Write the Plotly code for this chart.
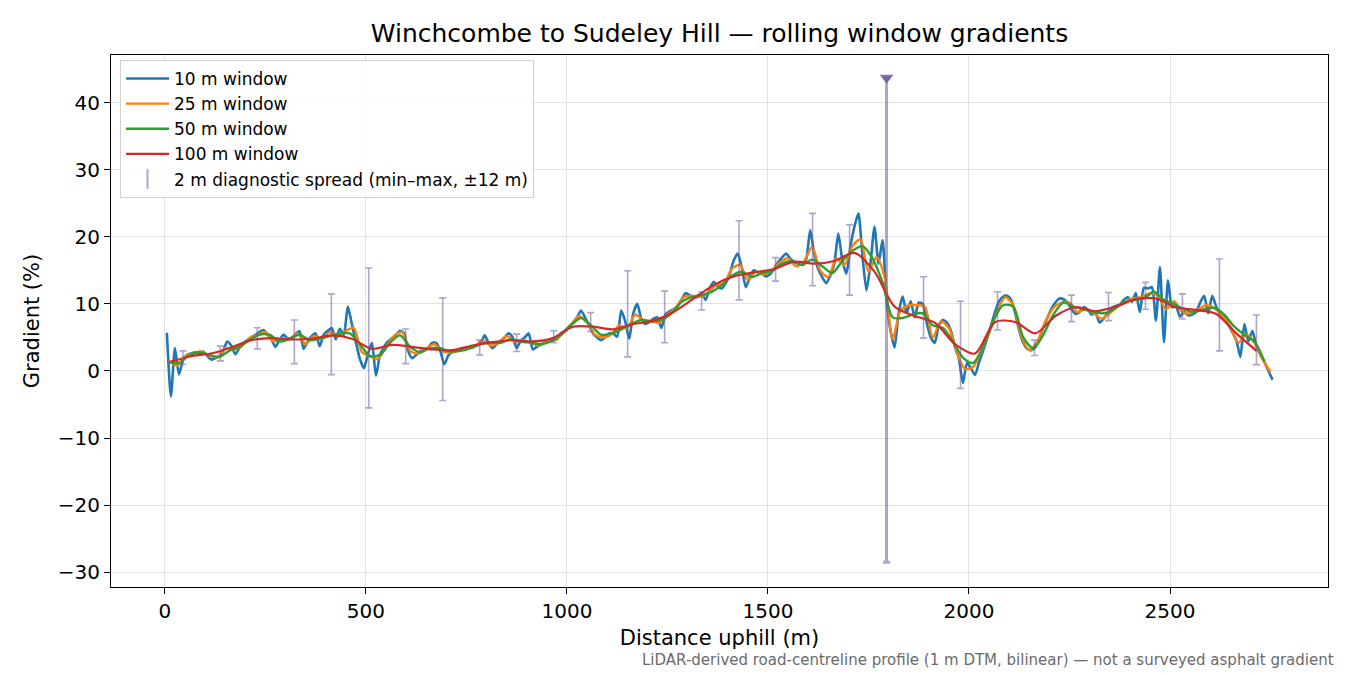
import plotly.graph_objects as go

# sample positions along the climb (m)
x10 = list(range(5, 2756, 10))
x25 = list(range(10, 2751, 20))
x50 = list(range(10, 2736, 25))
x100 = list(range(15, 2716, 50))

# rolling-window gradients (%)
grad10 = [
    5.7, -3.8, 3.4, -0.5, 1.6, 2.4, 2.6, 2.8, 2.5, 2.9,
    2.3, 1.7, 1.9, 2.2, 3.0, 4.4, 3.8, 2.5, 3.4, 4.1,
    4.6, 5.0, 5.4, 5.8, 6.1, 5.4, 4.7, 3.6, 4.6, 5.4,
    4.9, 4.8, 5.5, 5.9, 3.3, 4.4, 5.2, 5.6, 3.7, 5.4,
    6.0, 6.4, 4.7, 6.3, 5.4, 9.6, 7.0, 4.3, 1.8, 0.4,
    2.5, 4.2, -0.7, 2.4, 3.6, 4.4, 4.9, 5.4, 6.0, 5.6,
    3.0, 1.9, 2.4, 2.9, 3.2, 3.5, 4.2, 4.2, 3.0, 1.0,
    2.3, 2.8, 3.0, 3.1, 3.2, 3.4, 3.6, 3.8, 4.0, 5.3,
    4.2, 3.4, 4.0, 4.5, 5.0, 5.6, 5.0, 3.4, 4.5, 5.0,
    5.6, 3.2, 3.6, 3.9, 4.3, 4.6, 4.6, 4.7, 5.6, 6.0,
    6.6, 7.2, 8.0, 9.0, 8.0, 6.8, 5.6, 5.0, 4.6, 5.0,
    5.6, 5.6, 5.1, 9.0, 7.4, 4.8, 8.6, 10.0, 7.8, 7.0,
    7.3, 7.8, 8.0, 6.4, 8.4, 8.9, 9.2, 9.6, 10.6, 11.6,
    11.3, 11.1, 11.0, 11.5, 10.6, 12.3, 13.3, 12.6, 12.3, 13.1,
    14.5, 16.5, 17.5, 15.4, 12.5, 14.0, 15.0, 14.7, 14.5, 14.1,
    14.4, 15.2, 16.2, 16.9, 17.5, 16.8, 16.2, 16.0, 15.8, 16.6,
    21.0, 17.5, 15.2, 14.0, 13.1, 14.2, 16.0, 20.5, 16.5, 14.5,
    18.5, 21.5, 23.5, 17.2, 12.0, 16.0, 21.5, 16.0, 19.5, 10.6,
    6.0, 3.5, 8.6, 11.1, 8.6, 10.4, 8.0, 10.2, 10.0, 7.2,
    5.0, 4.2, 6.8, 7.6, 7.2, 6.0, 3.6, 1.8, -1.8, 1.2,
    0.4, -0.6, 1.3, 3.0, 4.8, 6.8, 8.8, 10.4, 11.1, 11.2,
    10.6, 8.6, 6.0, 4.2, 3.3, 3.1, 3.5, 4.8, 6.5, 7.9,
    9.3, 10.2, 10.8, 10.7, 10.2, 9.2, 8.5, 8.8, 9.5, 9.2,
    8.4, 8.6, 7.2, 7.8, 8.6, 9.4, 9.7, 9.9, 10.6, 11.0,
    10.3, 11.6, 8.8, 12.4, 12.3, 12.5, 7.5, 15.5, 4.3, 13.5,
    9.5, 9.6, 8.1, 8.8, 8.3, 8.4, 8.8, 10.2, 11.2, 8.6,
    11.2, 9.6, 8.4, 8.0, 7.0, 5.8, 4.6, 2.1, 7.0, 4.4,
    6.0, 3.6, 2.4, 1.3, 0.0, -1.3,
]
grad25 = [
    1.6, 0.8, 2.2, 2.6, 2.9,
    2.3, 2.0, 3.4, 3.2, 3.6,
    4.9, 5.4, 5.8, 4.4, 4.9,
    4.8, 5.6, 4.0, 5.2, 4.8,
    5.8, 5.2, 6.0, 6.4, 2.8,
    2.2, 1.8, 3.6, 5.2, 5.8,
    3.0, 2.6, 3.3, 4.0, 3.0,
    2.7, 3.0, 3.3, 3.6, 4.6,
    3.8, 4.2, 5.2, 4.4, 4.6,
    4.2, 3.8, 4.4, 4.6, 5.6,
    6.8, 8.2, 7.2, 5.4, 5.0,
    5.4, 6.8, 6.4, 8.4, 7.6,
    7.4, 7.2, 8.4, 9.4, 11.0,
    11.2, 11.1, 11.6, 12.8, 13.0,
    15.2, 15.8, 13.6, 14.8, 14.4,
    15.0, 16.2, 16.8, 15.6, 16.4,
    18.5, 15.0, 14.0, 16.8, 15.8,
    18.6, 19.6, 14.8, 17.0, 14.0,
    4.8, 9.0, 9.8, 9.8, 9.6,
    5.0, 7.4, 6.4, 2.8, 0.3,
    0.6, 2.8, 5.6, 8.8, 11.0,
    9.8, 5.2, 3.1, 4.4, 7.4,
    9.4, 10.2, 10.2, 8.8, 9.2,
    8.6, 7.8, 8.6, 9.6, 10.4,
    10.8, 11.0, 11.6, 11.2, 9.2,
    10.4, 8.8, 8.6, 9.2, 9.8,
    9.4, 8.2, 6.6, 4.2, 5.4,
    4.2, 1.8, -0.2,
]
grad50 = [
    1.3, 1.2, 2.3, 2.8,
    2.4, 2.1, 3.0, 3.6,
    4.6, 5.4, 5.4, 4.4,
    4.8, 5.4, 4.6, 4.8,
    5.2, 5.6, 5.6, 4.0,
    2.2, 2.4, 4.2, 5.3,
    3.6, 2.8, 3.4, 3.4,
    2.9, 3.0, 3.4, 4.0,
    4.2, 4.2, 4.7, 4.4,
    4.2, 4.0, 4.4, 5.4,
    6.8, 7.9, 6.8, 5.4,
    5.6, 6.2, 7.0, 7.6,
    7.4, 7.6, 8.6, 10.3,
    11.0, 11.3, 11.8, 12.8,
    14.2, 14.8, 14.0, 14.6,
    14.9, 16.0, 16.4, 15.8,
    16.6, 15.6, 14.6, 16.4,
    17.9, 18.6, 16.8, 13.2,
    8.0, 7.9, 8.4, 8.6,
    6.8, 6.4, 4.4, 2.0,
    1.2, 3.6, 7.4, 9.8,
    9.6, 5.0, 3.4, 5.4,
    8.4, 10.2, 9.6, 9.2,
    8.8, 8.6, 9.2, 10.2,
    10.6, 10.8, 11.8, 10.6,
    10.0, 9.2, 8.8, 9.2,
    9.4, 8.4, 6.6, 5.4,
    4.4, 1.4,
]
grad100 = [
    1.4, 2.2, 2.6, 3.5, 4.6, 4.9, 4.7, 4.8, 5.3, 4.8,
    3.3, 3.9, 3.6, 3.2, 3.1, 3.8, 4.3, 4.6, 4.4, 4.9,
    6.6, 6.6, 6.2, 7.0, 7.5, 8.8, 10.8, 12.8, 14.1, 14.7,
    15.2, 16.3, 16.0, 16.4, 17.6, 14.8, 9.6, 8.2, 7.2, 4.0,
    2.6, 7.3, 7.3, 5.6, 8.2, 9.5, 8.9, 9.6, 10.7, 10.8,
    9.5, 9.1, 8.5, 5.6, 3.0,
]

# 2 m diagnostic spread, min-max within +/-12 m
spread_x = [45, 138, 230, 322, 414, 507, 599, 691, 783, 875,
            967, 1059, 1151, 1243, 1335, 1428, 1519, 1611, 1703, 1795,
            1887, 1979, 2071, 2163, 2255, 2347, 2439, 2531, 2623, 2715]
spread_lo = [1.0, 1.5, 3.3, 1.1, -0.55, -5.5, 1.1, -4.4, 2.4, 2.9,
             4.2, 5.9, 2.1, 4.2, 9.1, 10.6, 13.4, 12.7, 11.3, -28.5,
             4.9, -2.6, 6.1, 2.3, 7.35, 7.5, 9.2, 7.75, 3.0, 0.95]
spread_hi = [3.0, 3.7, 6.45, 7.6, 11.5, 15.35, 6.26, 10.9, 4.6, 5.5,
             6.0, 8.7, 14.95, 11.9, 11.8, 22.4, 16.9, 23.5, 21.8, 43.7,
             14.05, 10.4, 11.8, 4.6, 11.3, 11.7, 13.2, 11.5, 16.7, 8.35]

ytick_vals = [-30, -20, -10, 0, 10, 20, 30, 40]
ytick_text = ["\u221230", "\u221220", "\u221210", "0", "10", "20", "30", "40"]
xtick_vals = [0, 500, 1000, 1500, 2000, 2500]

FONT = "DejaVu Sans"
SPREAD = "rgba(110,90,160,0.55)"

fig = go.Figure()

for xs, ys, name, col, w, sm in [
    (x10, grad10, "10 m window", "#1f77b4", 2.6, 0.6),
    (x25, grad25, "25 m window", "#ff7f0e", 2.4, 0.8),
    (x50, grad50, "50 m window", "#2ca02c", 2.4, 0.8),
    (x100, grad100, "100 m window", "#d62728", 2.2, 0.8),
]:
    fig.add_trace(go.Scatter(x=xs, y=ys, mode="lines", name=name,
                             line=dict(color=col, width=w, shape="spline", smoothing=sm)))

# split out the outlier bar (largest spread)
ranges = [h - l for h, l in zip(spread_hi, spread_lo)]
big = ranges.index(max(ranges))
norm = [i for i in range(len(spread_x)) if i != big]

fig.add_trace(go.Scatter(
    x=[spread_x[i] for i in norm], y=[spread_lo[i] for i in norm],
    mode="markers", marker=dict(size=1, opacity=0), showlegend=False, hoverinfo="skip",
    error_y=dict(type="data", symmetric=False, array=[ranges[i] for i in norm],
                 arrayminus=[0] * len(norm), color=SPREAD, thickness=1.6, width=3.5),
))
fig.add_trace(go.Scatter(
    x=[spread_x[big]], y=[spread_lo[big]],
    mode="markers", marker=dict(size=1, opacity=0), showlegend=False, hoverinfo="skip",
    error_y=dict(type="data", symmetric=False, array=[ranges[big]], arrayminus=[0],
                 color=SPREAD, thickness=3, width=3.5),
))
fig.add_trace(go.Scatter(
    x=[spread_x[big]], y=[spread_hi[big]], mode="markers", showlegend=False,
    marker=dict(symbol="triangle-down", size=12, color="rgba(110,90,160,0.85)"),
))
# legend entry for the spread bars
fig.add_trace(go.Scatter(
    x=[None], y=[None], mode="markers", name="2 m diagnostic spread (min\u2013max, \u00b112 m)",
    marker=dict(symbol="line-ns-open", size=14, color=SPREAD, line=dict(color=SPREAD, width=2)),
))

axis_common = dict(
    showgrid=True, gridcolor="#e3e3e3", gridwidth=1, zeroline=False,
    showline=True, linecolor="black", linewidth=1.2, mirror=True,
    ticks="outside", ticklen=6, tickcolor="black", tickwidth=1.2,
    tickfont=dict(family=FONT, size=20, color="black"),
)

# the page adds an 8 px body margin, so the margins here are offset by that
fig.update_layout(
    width=1350, height=675,
    margin=dict(l=103, r=30, t=47, b=96),
    paper_bgcolor="white", plot_bgcolor="white",
    font=dict(family=FONT, color="black"),
    title=dict(text="Winchcombe to Sudeley Hill \u2014 rolling window gradients",
               x=0.5, xref="paper", xanchor="center",
               y=0.963, yref="container", yanchor="middle",
               font=dict(family=FONT, size=25, color="black")),
    xaxis=dict(axis_common, range=[-134, 2893], tickvals=xtick_vals,
               title=dict(text="Distance uphill (m)", standoff=8,
                          font=dict(family=FONT, size=21, color="black"))),
    yaxis=dict(axis_common, range=[-32.2, 47.1], tickvals=ytick_vals, ticktext=ytick_text,
               title=dict(text="Gradient (%)", standoff=12,
                          font=dict(family=FONT, size=21, color="black"))),
    legend=dict(x=0.0074, y=0.9906, xanchor="left", yanchor="top",
                bgcolor="rgba(255,255,255,0.85)", bordercolor="#d0d0d0", borderwidth=1,
                font=dict(family=FONT, size=17, color="black"), tracegroupgap=0,
                itemwidth=43),
    showlegend=True,
)

fig.add_annotation(
    text="LiDAR-derived road-centreline profile (1 m DTM, bilinear) \u2014 not a surveyed asphalt gradient",
    xref="paper", yref="paper", x=1.0066, y=-0.137, xanchor="right", yanchor="middle",
    showarrow=False, font=dict(family=FONT, size=15, color="#6b6b6b"),
)

fig.write_html("out.html")
